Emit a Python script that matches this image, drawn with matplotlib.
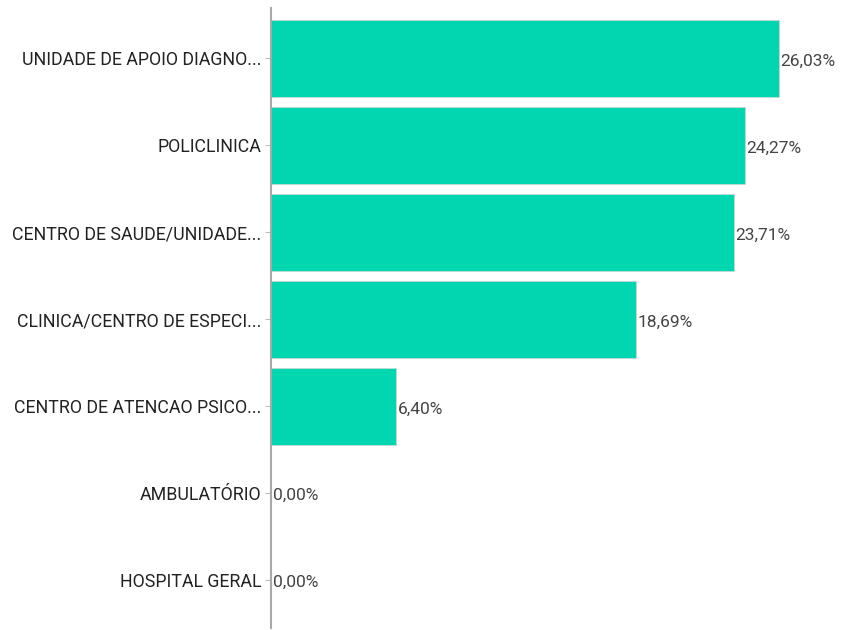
import matplotlib
matplotlib.use("Agg")
import matplotlib.pyplot as plt

# ---------------- DATA ---------------- #
categories = [
    "UNIDADE DE APOIO DIAGNO...",
    "POLICLINICA",
    "CENTRO DE SAUDE/UNIDADE...",
    "CLINICA/CENTRO DE ESPECI...",
    "CENTRO DE ATENCAO PSICO...",
    "AMBULATÓRIO",
    "HOSPITAL GERAL",
]
values = [26.03, 24.27, 23.71, 18.69, 6.40, 0.00, 0.00]
labels = ["26,03%", "24,27%", "23,71%", "18,69%", "6,40%", "0,00%", "0,00%"]
# -------------------------------------- #

plt.rcParams['font.family'] = ['Roboto', 'DejaVu Sans']

fig = plt.figure(figsize=(8.41, 6.30), dpi=100)
ax = fig.add_axes([271 / 841, 2 / 630, 1 - 271 / 841, 620 / 630])

pos = list(range(len(categories)))
ax.barh(pos, values, height=0.88, color='#00D6B0', edgecolor='#c8d8d4', linewidth=0.6)

# value labels just right of each bar end
for y, v, lab in zip(pos, values, labels):
    ax.text(v + 0.08, y + 0.03, lab, va='center', ha='left', fontsize=12.5, color='#444444')

ax.set_yticks(pos)
ax.set_yticklabels(categories, fontsize=12.8, color='#222222')
ax.set_ylim(6.55, -0.58)
ax.set_xlim(0, 29.2)
ax.set_xticks([])

for s in ['top', 'right', 'bottom']:
    ax.spines[s].set_visible(False)
ax.spines['left'].set_color('#aaaaaa')
ax.spines['left'].set_linewidth(1.5)
ax.tick_params(axis='y', length=4, color='#bbbbbb', pad=3)

fig.savefig("out.png", dpi=100)
